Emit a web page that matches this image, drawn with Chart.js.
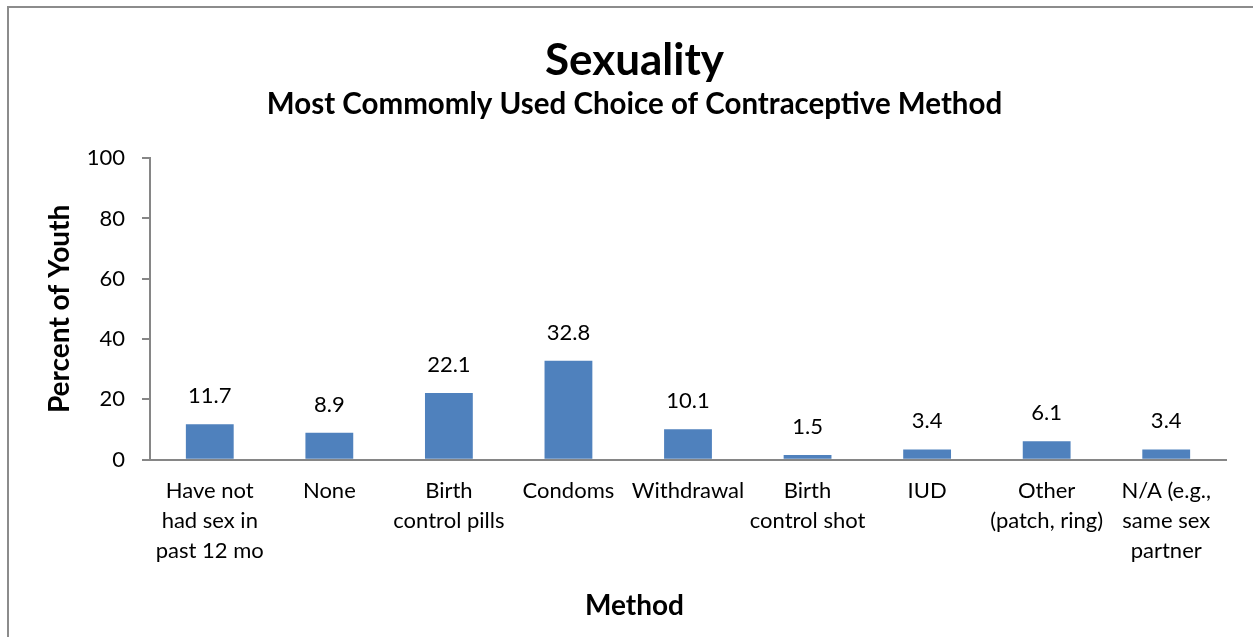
<!DOCTYPE html>
<html>
<head>
<meta charset="utf-8">
<script src="https://cdn.jsdelivr.net/npm/chart.js@4"></script>
<style>
  html, body { margin: 0; padding: 0; background: #fff; overflow: hidden; }
  #frame { position: absolute; left: 7px; top: 6px; width: 1400px; height: 800px; border: 2px solid #8c8c8c; }
  #wrap { position: absolute; left: 0; top: 0; width: 1253px; height: 637px; }
</style>
</head>
<body>
<div id="frame"></div>
<div id="wrap"><canvas id="chart"></canvas></div>
<script>
const categories = [
  ["Have not", "had sex in", "past 12 mo"],
  ["None"],
  ["Birth", "control pills"],
  ["Condoms"],
  ["Withdrawal"],
  ["Birth", "control shot"],
  ["IUD"],
  ["Other", "(patch, ring)"],
  ["N/A (e.g.,", "same sex", "partner"],
];
const percents = [11.7, 8.9, 22.1, 32.8, 10.1, 1.5, 3.4, 6.1, 3.4];
const yTicks = [0, 20, 40, 60, 80, 100];
const xTitle = "Method";

const FONT = "Lato, 'Open Sans', sans-serif";
Chart.defaults.font.family = FONT;
Chart.defaults.color = "#000";

// values above each bar + x axis title centred on the whole chart
const barLabels = {
  id: "barLabels",
  afterDatasetsDraw(chart) {
    const ctx = chart.ctx;
    const meta = chart.getDatasetMeta(0);
    ctx.save();
    ctx.font = "22px " + FONT;
    ctx.fillStyle = "#000";
    ctx.textAlign = "center";
    ctx.textBaseline = "middle";
    meta.data.forEach((bar, i) => {
      ctx.fillText(percents[i].toFixed(1), bar.x, bar.y - 28);
    });
    ctx.font = "bold 28px " + FONT;
    ctx.fillText(xTitle, chart.width / 2 + 8, chart.scales.x.bottom - 16.8);
    ctx.restore();
  },
};

const chart = document.querySelector("#chart").getContext("2d");

new Chart(chart, {
  type: "bar",
  data: {
    labels: categories,
    datasets: [
      {
        data: percents,
        backgroundColor: "#4f81bd",
        barPercentage: 0.4,
        categoryPercentage: 1,
      },
    ],
  },
  options: {
    responsive: true,
    maintainAspectRatio: false,
    animation: false,
    layout: { padding: { left: 43, right: 27, top: 34, bottom: 14 } },
    plugins: {
      legend: { display: false },
      tooltip: { enabled: false },
      title: {
        display: true,
        text: "Sexuality",
        font: { size: 44, weight: "bold" },
        padding: { top: 0, bottom: 0 },
      },
      subtitle: {
        display: true,
        text: "Most Commomly Used Choice of Contraceptive Method",
        font: { size: 29.5, weight: "bold" },
        color: "#000",
        padding: { top: 0, bottom: 36 },
      },
    },
    scales: {
      x: {
        grid: { drawOnChartArea: false, drawTicks: false },
        border: { color: "#868686", width: 2 },
        ticks: { font: { size: 22, lineHeight: 1.36 }, padding: 16, maxRotation: 0, autoSkip: false },
        title: {
          display: true,
          text: xTitle,
          color: "rgba(0,0,0,0)",
          font: { size: 28, weight: "bold" },
          padding: { top: 8, bottom: 0 },
        },
      },
      y: {
        min: 0,
        max: 100,
        afterBuildTicks: (axis) => {
          axis.ticks = yTicks.map((v) => ({ value: v }));
        },
        afterFit: (axis) => {
          axis.width = 107;
        },
        grid: { drawOnChartArea: false, drawTicks: true, tickLength: 8, color: "#868686", lineWidth: 2 },
        border: { color: "#868686", width: 2 },
        ticks: { font: { size: 22 }, padding: 17 },
        title: {
          display: true,
          text: "Percent of Youth",
          font: { size: 28, weight: "bold" },
          padding: { top: 0, bottom: 8 },
        },
      },
    },
  },
  plugins: [barLabels],
});
</script>
</body>
</html>
